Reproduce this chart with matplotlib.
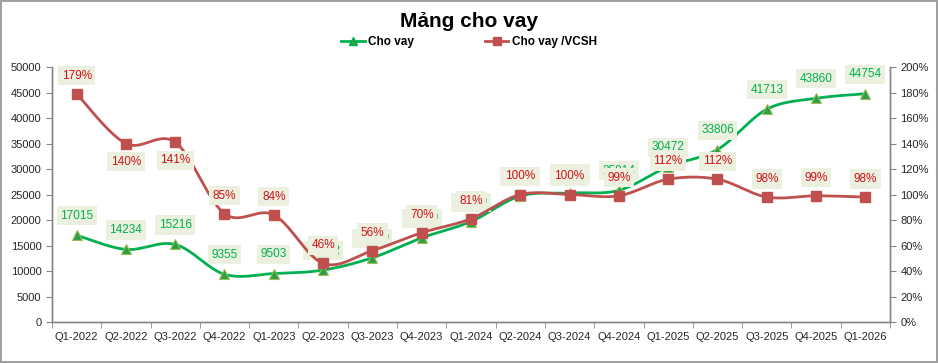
import numpy as np
import matplotlib
matplotlib.use("Agg")
import matplotlib.pyplot as plt
from matplotlib.ticker import PercentFormatter, FixedLocator

plt.rcParams['font.family'] = ['Liberation Sans Narrow', 'Liberation Sans', 'DejaVu Sans']

# Dữ liệu
quarters = ["Q1-2022", "Q2-2022", "Q3-2022", "Q4-2022", "Q1-2023", "Q2-2023", "Q3-2023",
            "Q4-2023", "Q1-2024", "Q2-2024", "Q3-2024", "Q4-2024", "Q1-2025", "Q2-2025",
            "Q3-2025", "Q4-2025", "Q1-2026"]
cho_vay = [17015, 14234, 15216, 9355, 9503, 10182, 12600, 16500, 19700, 24700, 25300,
           25814, 30472, 33806, 41713, 43860, 44754]
cho_vay_vcsh = [1.79, 1.40, 1.41, 0.85, 0.84, 0.46, 0.56, 0.70, 0.81, 1.00, 1.00, 0.99,
                1.12, 1.12, 0.98, 0.99, 0.98]
# nhãn của Cho vay/VCSH đặt phía dưới điểm
below = [1, 2]

GREEN = "#00B050"
RED_LINE = "#C0504D"
RED_TXT = "#D0101A"
BOX = "#EBF1DE"
GRAY = "#868686"
TXT = "#262626"


def smooth(xs, ys, n=30):
    # đường cong kiểu "smoothed line" của Excel (Bezier Catmull-Rom)
    xs = np.asarray(xs, float)
    ys = np.asarray(ys, float)
    px = np.concatenate([[xs[0]], xs, [xs[-1]]])
    py = np.concatenate([[ys[0]], ys, [ys[-1]]])
    t = np.linspace(0, 1, n)[:, None]
    ox, oy = [], []
    for i in range(1, len(px) - 2):
        p0 = np.array([px[i], py[i]])
        p3 = np.array([px[i + 1], py[i + 1]])
        c1 = p0 + (np.array([px[i + 1], py[i + 1]]) - np.array([px[i - 1], py[i - 1]])) / 6
        c2 = p3 - (np.array([px[i + 2], py[i + 2]]) - np.array([px[i], py[i]])) / 6
        pts = ((1 - t) ** 3) * p0 + 3 * ((1 - t) ** 2) * t * c1 + 3 * (1 - t) * t ** 2 * c2 + t ** 3 * p3
        ox.append(pts[:, 0])
        oy.append(pts[:, 1])
    return np.concatenate(ox), np.concatenate(oy)


fig = plt.figure(figsize=(9.38, 3.63), dpi=100)
fig.patch.set_edgecolor("#A0A0A0")
fig.patch.set_linewidth(1.5)
ax = fig.add_axes([0.0554, 0.1129, 0.8934, 0.7025])
ax2 = ax.twinx()

x = np.arange(len(quarters))

sx, sy = smooth(x, cho_vay)
ax.plot(sx, sy, color=GREEN, lw=2, zorder=3)
ax.plot(x, cho_vay, ls="none", marker="^", ms=7, color="#2EA043",
        markeredgecolor="#9BBB59", markeredgewidth=0.8, zorder=4)

sx, sy = smooth(x, cho_vay_vcsh)
ax2.plot(sx, sy, color=RED_LINE, lw=2, zorder=3)
ax2.plot(x, cho_vay_vcsh, ls="none", marker="s", ms=7, color=RED_LINE, zorder=4)

for i, v in enumerate(cho_vay):
    ax.annotate(str(v), (i, v), xytext=(0, 14), textcoords="offset points",
                ha="center", va="center", fontsize=8.5, color=GREEN, zorder=5,
                bbox=dict(boxstyle="square,pad=0.3", fc=BOX, ec="none"))

for i, v in enumerate(cho_vay_vcsh):
    dy = -13 if i in below else 13
    ax2.annotate("%d%%" % round(v * 100), (i, v), xytext=(0, dy), textcoords="offset points",
                 ha="center", va="center", fontsize=8.5, color=RED_TXT, zorder=6,
                 bbox=dict(boxstyle="square,pad=0.3", fc=BOX, ec="none"))

ax.set_xlim(-0.5, len(quarters) - 0.5)
ax.set_ylim(0, 50000)
ax.set_yticks(np.arange(0, 50001, 5000))
ax2.set_ylim(0, 2)
ax2.set_yticks(np.arange(0, 2.01, 0.2))
ax2.yaxis.set_major_formatter(PercentFormatter(1.0, decimals=0))

ax.set_xticks(x)
ax.set_xticklabels(quarters)
ax.xaxis.set_minor_locator(FixedLocator(np.arange(-0.5, len(quarters), 1)))
ax.tick_params(axis="x", which="major", length=0, pad=7, labelsize=8, colors=TXT)
ax.tick_params(axis="x", which="minor", length=4, color=GRAY)
ax.tick_params(axis="y", length=4, color=GRAY, labelsize=8, labelcolor=TXT)
ax2.tick_params(axis="y", length=4, color=GRAY, labelsize=8, labelcolor=TXT)

for a in (ax, ax2):
    a.spines["top"].set_visible(False)
    for s in ("left", "right", "bottom"):
        a.spines[s].set_color(GRAY)
        a.spines[s].set_linewidth(1)
ax.set_zorder(ax2.get_zorder() - 1)
ax.patch.set_visible(True)
ax2.patch.set_visible(False)

fig.text(0.50, 0.942, "Mảng cho vay", ha="center", va="center", fontsize=15,
         fontweight="bold", color="#000000")

h1, = ax.plot([], [], color=GREEN, lw=2, marker="^", ms=6, markerfacecolor="#2EA043")
h2, = ax.plot([], [], color=RED_LINE, lw=2, marker="s", ms=6)
fig.legend([h1, h2], ["Cho vay", "Cho vay /VCSH"], loc="center", ncol=2,
           bbox_to_anchor=(0.50, 0.884), frameon=False, fontsize=8.5, handlelength=2,
           columnspacing=6, handletextpad=0.3,
           prop={"weight": "bold", "size": 8.5})

fig.savefig("out.png", dpi=100)
